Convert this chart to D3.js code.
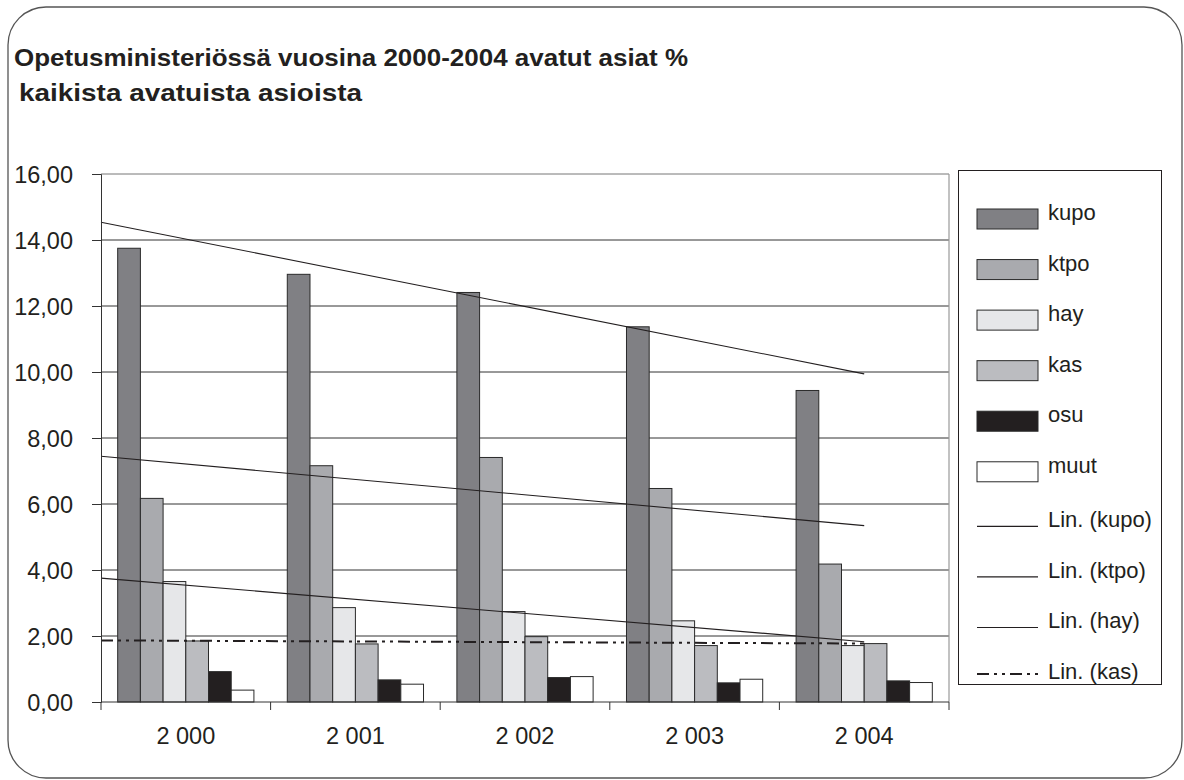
<!DOCTYPE html>
<html><head><meta charset="utf-8">
<script src="https://cdn.jsdelivr.net/npm/d3@7"></script>
<style>body{margin:0;background:#fff}svg{display:block}text{font-family:"Liberation Sans",Arial,sans-serif;fill:#231f20}</style>
</head><body><svg id="c" width="1184" height="780"></svg>
<script>
const years = ["2 000","2 001","2 002","2 003","2 004"];
const seriesNames = ["kupo","ktpo","hay","kas","osu","muut"];
const kupo = [13.75,12.96,12.41,11.37,9.44];
const ktpo = [6.17,7.16,7.41,6.47,4.18];
const hay  = [3.65,2.86,2.74,2.46,1.71];
const kas  = [1.85,1.76,1.98,1.71,1.77];
const osu  = [0.92,0.67,0.74,0.58,0.64];
const muut = [0.36,0.54,0.77,0.69,0.59];
const yTicks = [0,2,4,6,8,10,12,14,16];
const trendSeries = ["kupo","ktpo","hay","kas"];
const legendLabels = ["kupo","ktpo","hay","kas","osu","muut","Lin. (kupo)","Lin. (ktpo)","Lin. (hay)","Lin. (kas)"];
const titleLines = ["Opetusministeriössä vuosina 2000-2004 avatut asiat %"," kaikista avatuista asioista"];
const colors = {kupo:"#808084",ktpo:"#a9aaae",hay:"#e6e7e9",kas:"#bbbcc0",osu:"#231f20",muut:"#ffffff"};
const values = {kupo,ktpo,hay,kas,osu,muut};

const svg = d3.select("#c");
// outer rounded frame
svg.append("rect").attr("x",8).attr("y",7).attr("width",1174).attr("height",771)
  .attr("rx",38).attr("ry",38).attr("fill","none").attr("stroke","#555").attr("stroke-width",1.3);

// title
svg.append("text").attr("x",14).attr("y",66).attr("font-size",24).attr("font-weight","bold")
  .attr("textLength",674).attr("lengthAdjust","spacingAndGlyphs").text(titleLines[0]);
svg.append("text").attr("x",19).attr("y",101).attr("font-size",24).attr("font-weight","bold")
  .attr("textLength",343).attr("lengthAdjust","spacingAndGlyphs").text(titleLines[1].trim());

const L=101,R=949,T=174,B=702;
const y = d3.scaleLinear().domain([0,16]).range([B,T]);
const x0 = d3.scaleBand().domain(years).range([L,R]).padding(0);
const x1 = d3.scaleBand().domain(seriesNames).range([0,x0.bandwidth()]).paddingInner(0).paddingOuter(0.735);
const xi = d3.scaleLinear().domain([0,4]).range([x0(years[0])+x0.bandwidth()/2, x0(years[4])+x0.bandwidth()/2]);

// gridlines
svg.append("g").selectAll("line").data(yTicks.filter(d=>d>0)).join("line")
  .attr("x1",L).attr("x2",R).attr("y1",d=>y(d)).attr("y2",d=>y(d))
  .attr("stroke",d=>d===16?"#777":"#333").attr("stroke-width",1);
// plot right border
svg.append("line").attr("x1",R).attr("x2",R).attr("y1",T).attr("y2",B).attr("stroke","#999").attr("stroke-width",1.2);

// bars
years.forEach((yr,i)=>{
  seriesNames.forEach(s=>{
    const v = values[s][i];
    svg.append("rect").attr("x",x0(yr)+x1(s)).attr("y",y(v))
      .attr("width",x1.bandwidth()).attr("height",B-y(v))
      .attr("fill",colors[s]).attr("stroke","#2a2a2a").attr("stroke-width",1);
  });
});

// trend lines (least squares)
function fit(arr){
  const n=arr.length, xs=d3.range(n);
  const mx=d3.mean(xs), my=d3.mean(arr);
  const sl=d3.sum(xs,(xv,k)=>(xv-mx)*(arr[k]-my))/d3.sum(xs,xv=>(xv-mx)*(xv-mx));
  return t=>my+sl*(t-mx);
}
trendSeries.forEach(s=>{
  const f=fit(values[s]);
  const t0=-0.5,t1=4;
  svg.append("line").attr("x1",xi(t0)).attr("y1",y(f(t0))).attr("x2",xi(t1)).attr("y2",y(f(t1)))
    .attr("stroke","#231f20").attr("stroke-width",s==="kas"?2:1.1)
    .attr("stroke-dasharray",s==="kas"?"12,5,3,5,3,5":null);
});

// y axis
const ya = svg.append("g").attr("transform",`translate(${L},0)`)
  .call(d3.axisLeft(y).tickValues(yTicks).tickSize(9).tickPadding(19).tickFormat(d=>d3.format(".2f")(d).replace(".",",")));
ya.select(".domain").attr("stroke","#333");
ya.selectAll(".tick line").attr("stroke","#333");
ya.selectAll("text").attr("font-size",23.5).attr("fill","#231f20").attr("font-family","Liberation Sans, Arial, sans-serif").attr("dy","0.36em");

// x axis
svg.append("line").attr("x1",L).attr("x2",R).attr("y1",B).attr("y2",B).attr("stroke","#333");
svg.selectAll("line.xt").data(d3.range(6)).join("line").attr("class","xt")
  .attr("x1",d=>L+d*x0.step()).attr("x2",d=>L+d*x0.step()).attr("y1",B).attr("y2",B+8).attr("stroke","#333");
svg.selectAll("text.xl").data(years).join("text").attr("class","xl")
  .attr("x",d=>x0(d)+x0.bandwidth()/2).attr("y",744).attr("text-anchor","middle").attr("font-size",23.5).text(d=>d);

// legend
svg.append("rect").attr("x",958.5).attr("y",170.5).attr("width",203).attr("height",514)
  .attr("fill","#fff").attr("stroke","#231f20").attr("stroke-width",1);
const ly = d3.scaleLinear().domain([0,9]).range([219,674]);
legendLabels.forEach((lab,i)=>{
  const cy=ly(i);
  if(i<6){
    svg.append("rect").attr("x",977).attr("y",cy-10).attr("width",61).attr("height",20)
      .attr("fill",colors[seriesNames[i]]).attr("stroke","#2a2a2a").attr("stroke-width",1);
  } else {
    const s=trendSeries[i-6];
    svg.append("line").attr("x1",977).attr("x2",1038).attr("y1",cy+(s==="kas"?0:4)).attr("y2",cy+(s==="kas"?0:4))
      .attr("stroke","#231f20").attr("stroke-width",s==="kas"?2:1.1)
      .attr("stroke-dasharray",s==="kas"?"12,5,3,5,3,5":null);
  }
  svg.append("text").attr("x",1048).attr("y",i<6?cy+1:cy+5).attr("font-size",22).text(lab);
});
</script></body></html>
